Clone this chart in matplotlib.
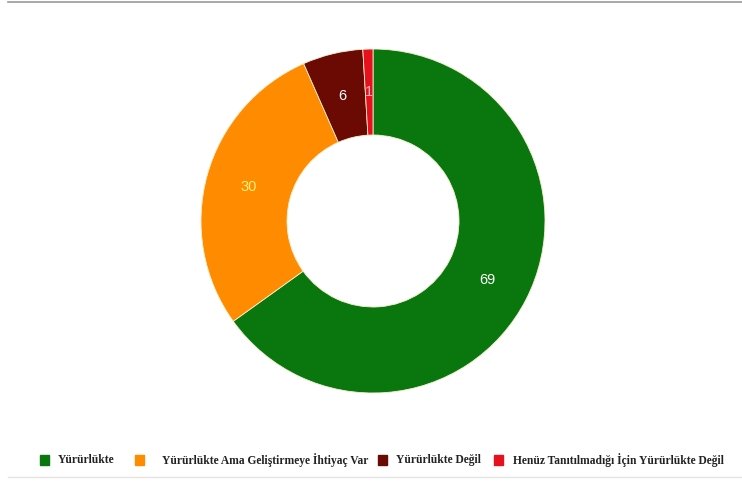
import matplotlib.pyplot as plt
from matplotlib.lines import Line2D
from matplotlib.patches import Rectangle

# durum dağılımı
categories = ["Yürürlükte", "Yürürlükte Ama Geliştirmeye İhtiyaç Var",
              "Yürürlükte Değil", "Henüz Tanıtılmadığı İçin Yürürlükte Değil"]
values = [69, 30, 6, 1]
colors = ["#0a760e", "#ff8c00", "#6a0a02", "#e8101c"]
label_colors = ["white", "#fff27a", "white", "#ffb3b3"]

W, H = 742, 486
fig = plt.figure(figsize=(W / 100, H / 100), dpi=100)

# halka: merkez (373, 221), dış yarıçap 172 px
cx, cy, r = 373, 221, 172
ax = fig.add_axes([(cx - r) / W, (H - cy - r) / H, 2 * r / W, 2 * r / H])
wedges, texts = ax.pie(values, colors=colors, startangle=90, counterclock=False,
                       radius=1, labels=[str(v) for v in values], labeldistance=0.75,
                       wedgeprops=dict(width=0.5, edgecolor="#f4f0d0", linewidth=0.6))
for t, c in zip(texts, label_colors):
    t.set_color(c)
    t.set_fontsize(10.5)
    t.set_family("Liberation Sans")
    t.set_ha("center")
    t.set_va("center")
ax.set_xlim(-1, 1)
ax.set_ylim(-1, 1)
ax.axis("off")

# üst ve alt çizgiler
fig.add_artist(Line2D([8 / W, 1], [1 - 2 / H] * 2, color="#9a9a9a", lw=1.2))
fig.add_artist(Line2D([8 / W, 1], [1 - 477 / H] * 2, color="#e4e4e4", lw=1))

# lejant
sq_x = [40, 135, 378, 494]
tx_x = [58, 162, 396, 513]
ly = 460
for c, name, sx, tx in zip(colors, categories, sq_x, tx_x):
    fig.add_artist(Rectangle((sx / W, 1 - (ly + 5) / H), 9 / W, 10 / H,
                             transform=fig.transFigure, color=c))
    fig.text(tx / W, 1 - ly / H, name, family="Liberation Serif", weight="bold",
             fontsize=8.3, va="center", ha="left", color="#222222")

fig.savefig("out.png", dpi=100)
